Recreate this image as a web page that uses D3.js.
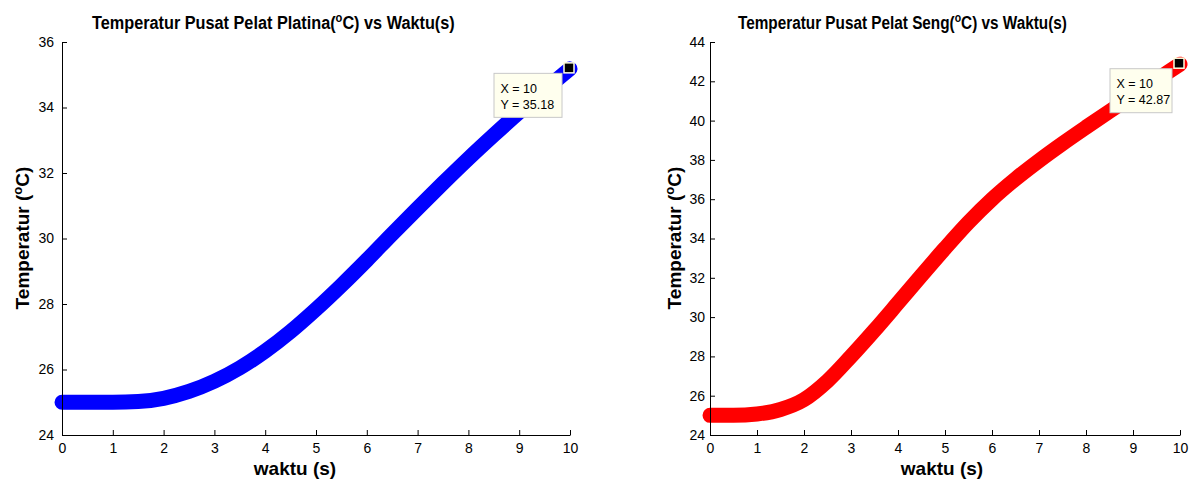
<!DOCTYPE html>
<meta charset="utf-8">
<title>Temperatur Pusat Pelat</title>

<style>
body { margin: 0; background: #fff; }
svg { font-family: "Liberation Sans", Arial, sans-serif; }
.axis path, .axis line { stroke: #000; }
.axis text { font-size: 14px; fill: #000; }
.title, .label { font-weight: bold; font-size: 19px; fill: #000; }
.tip text { font-size: 12.5px; fill: #000; }
</style>

<body>
<svg width="1192" height="479"></svg>

<script src="https://d3js.org/d3.v7.min.js"></script>

<script>

// waktu (s)
var waktu = [0, 0.5, 1, 1.5, 2, 2.5, 3, 3.5, 4, 4.5, 5, 5.5, 6, 6.5, 7, 7.5, 8, 8.5, 9, 9.5, 10];

// suhu pusat pelat platina
var platina = [25, 25, 25, 25.02, 25.12, 25.33, 25.64, 26.05, 26.56, 27.16, 27.84, 28.57, 29.34, 30.14, 30.92, 31.69, 32.44, 33.16, 33.86, 34.53, 35.18];

// suhu pusat pelat seng
var seng = [25, 25, 25.07, 25.3, 25.8, 26.75, 28.0, 29.33, 30.72, 32.12, 33.5, 34.82, 36.0, 37.03, 37.96, 38.83, 39.66, 40.47, 41.27, 42.07, 42.87];

var xTicks = [0, 1, 2, 3, 4, 5, 6, 7, 8, 9, 10];
var yTicksPlatina = [24, 26, 28, 30, 32, 34, 36];
var yTicksSeng = [24, 26, 28, 30, 32, 34, 36, 38, 40, 42, 44];

var svg = d3.select("svg");

// squeeze the title so it covers the given width
function fitText(t, x0, y0, len) {
  var w = t.node().getBBox().width;
  t.attr("transform", "translate(" + x0 + "," + y0 + ") scale(" + (len / w) + ",1)");
}

function addDegree(t, before, after) {
  t.append("tspan").text(before);
  t.append("tspan").attr("dy", -7).attr("font-size", "13px").text("o");
  t.append("tspan").attr("dy", 7).text(after);
}

function drawChart(opt) {
  var x = d3.scaleLinear().domain([0, 10]).range([opt.left, opt.right]),
      y = d3.scaleLinear().domain(opt.yDomain).range([435, 42]);

  var g = svg.append("g");

  var line = d3.line()
      .x(function(d, i) { return x(waktu[i]); })
      .y(function(d) { return y(d); })
      .curve(d3.curveMonotoneX);

  g.append("path")
      .datum(opt.values)
      .attr("d", line)
      .attr("fill", "none")
      .attr("stroke", opt.color)
      .attr("stroke-width", 15)
      .attr("stroke-linecap", "round")
      .attr("stroke-linejoin", "round");

  g.append("g")
      .attr("class", "axis")
      .attr("transform", "translate(0,435)")
      .call(d3.axisBottom(x).tickValues(xTicks).tickSizeInner(-5).tickSizeOuter(0).tickPadding(8))
      .call(function(s) { s.selectAll("text").attr("font-family", null).attr("font-size", null); });

  g.append("g")
      .attr("class", "axis")
      .attr("transform", "translate(" + opt.left + ",0)")
      .call(d3.axisLeft(y).tickValues(opt.yTicks).tickSizeInner(-5).tickSizeOuter(0).tickPadding(opt.yPad))
      .call(function(s) { s.selectAll("text").attr("font-family", null).attr("font-size", null); });

  // title
  var t = g.append("text").attr("class", "title");
  addDegree(t, opt.title, "C) vs Waktu(s)");
  fitText(t, opt.titleX, 29, opt.titleW);

  // x label
  g.append("text")
      .attr("class", "label")
      .attr("x", opt.xLabelX)
      .attr("y", 475)
      .attr("text-anchor", "middle")
      .text("waktu (s)");

  // y label
  var yl = g.append("text")
      .attr("class", "label")
      .attr("text-anchor", "middle")
      .attr("transform", "translate(" + opt.yLabelX + ",238) rotate(-90)");
  addDegree(yl, "Temperatur (", "C)");

  // data tip at the last point
  var last = opt.values.length - 1,
      px = x(waktu[last]),
      py = y(opt.values[last]);

  var tip = g.append("g").attr("class", "tip");
  tip.append("rect")
      .attr("x", px - 8 - opt.tipW)
      .attr("y", py + 4.5)
      .attr("width", opt.tipW)
      .attr("height", 44)
      .attr("fill", "#ffffee")
      .attr("stroke", "#c8c8c8");
  tip.append("text")
      .attr("x", px - 8 - opt.tipW + 6.5)
      .attr("y", py + 24)
      .text("X = " + waktu[last]);
  tip.append("text")
      .attr("x", px - 8 - opt.tipW + 6.5)
      .attr("y", py + 40)
      .text("Y = " + opt.values[last].toFixed(2));
  tip.append("rect")
      .attr("x", px - 6)
      .attr("y", py - 6)
      .attr("width", 10)
      .attr("height", 10)
      .attr("fill", "#000")
      .attr("stroke", "#ffffe0")
      .attr("stroke-width", 1.5);
}

drawChart({
  left: 62, right: 570, yDomain: [24, 36], yTicks: yTicksPlatina, yPad: 8,
  values: platina, color: "#0000ff",
  title: "Temperatur Pusat Pelat Platina(", titleX: 92, titleW: 363,
  xLabelX: 295, yLabelX: 28.5, tipW: 68
});

drawChart({
  left: 710, right: 1180, yDomain: [24, 44], yTicks: yTicksSeng, yPad: 5,
  values: seng, color: "#ff0000",
  title: "Temperatur Pusat Pelat Seng(", titleX: 738, titleW: 329,
  xLabelX: 942, yLabelX: 681, tipW: 62
});

</script>
</body>
